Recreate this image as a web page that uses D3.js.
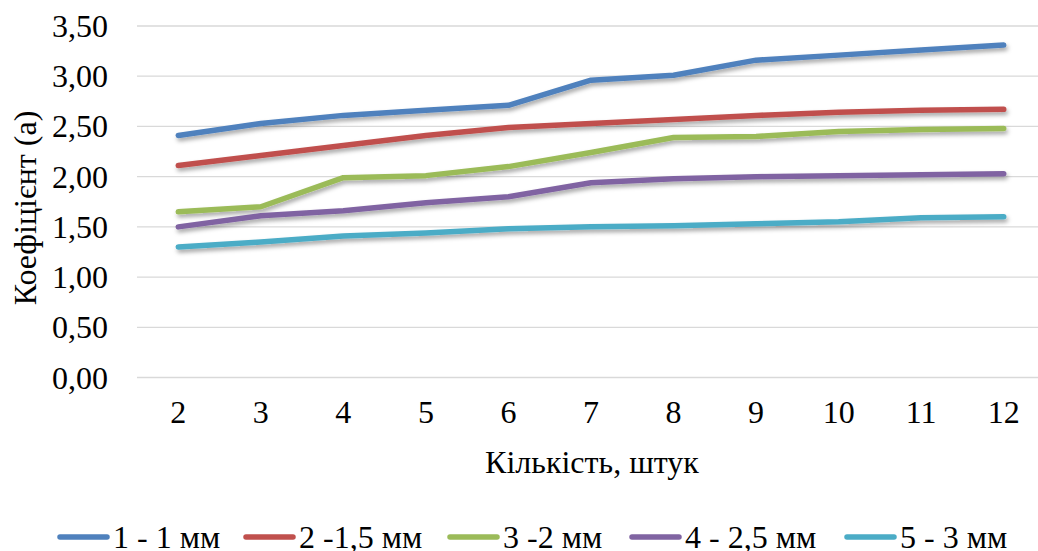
<html>
<head>
<script src="https://cdn.jsdelivr.net/npm/d3@7"></script>
</head>
<body style="margin:0">
<div id="chart"></div>
<script>
// data
var counts = [2, 3, 4, 5, 6, 7, 8, 9, 10, 11, 12];
var s1 = [2.41, 2.53, 2.61, 2.66, 2.71, 2.96, 3.01, 3.16, 3.21, 3.26, 3.31];
var s2 = [2.11, 2.21, 2.31, 2.41, 2.49, 2.53, 2.57, 2.61, 2.64, 2.66, 2.67];
var s3 = [1.65, 1.70, 1.99, 2.01, 2.10, 2.24, 2.39, 2.40, 2.45, 2.47, 2.48];
var s4 = [1.50, 1.61, 1.66, 1.74, 1.80, 1.94, 1.98, 2.00, 2.01, 2.02, 2.03];
var s5 = [1.30, 1.35, 1.41, 1.44, 1.48, 1.50, 1.51, 1.53, 1.55, 1.59, 1.60];
var seriesNames = ["1 - 1 мм", "2 -1,5 мм", "3 -2 мм", "4 - 2,5 мм", "5 - 3 мм"];
var colors = ["#4F81BD", "#C0504D", "#9BBB59", "#8064A2", "#4BACC6"];
var yTicks = [0, 0.5, 1, 1.5, 2, 2.5, 3, 3.5];

var W = 1038, H = 551;
var svg = d3.select("#chart").append("svg").attr("width", W).attr("height", H);

var defs = svg.append("defs");
var f = defs.append("filter").attr("id", "shadow").attr("x", "-10%").attr("y", "-50%").attr("width", "120%").attr("height", "200%");
f.append("feDropShadow").attr("dx", 1.5).attr("dy", 3).attr("stdDeviation", 2)
  .attr("flood-color", "#000").attr("flood-opacity", 0.35);

var plotLeft = 137, plotRight = 1045, plotTop = 26, plotBottom = 377.5;

var x = d3.scaleBand().domain(counts).range([plotLeft, plotRight]);
var y = d3.scaleLinear().domain([0, 3.5]).range([plotBottom, plotTop]);

// small helper so every label gets the same serif font
function label(sel) {
  return sel.attr("font-family", "Liberation Serif").attr("font-size", 32).attr("fill", "#000");
}

// gridlines
svg.append("g")
  .selectAll("line").data(yTicks).enter().append("line")
  .attr("x1", plotLeft).attr("x2", plotRight)
  .attr("y1", function(d) { return y(d); }).attr("y2", function(d) { return y(d); })
  .attr("stroke", "#d9d9d9").attr("stroke-width", 1.3);

// y tick labels
label(svg.selectAll(".ytick").data(yTicks).enter().append("text"))
  .attr("x", 108).attr("y", function(d) { return y(d) + 11; })
  .attr("text-anchor", "end")
  .text(function(d) { return d3.format(".2f")(d).replace(".", ","); });

// x tick labels
label(svg.selectAll(".xtick").data(counts).enter().append("text"))
  .attr("x", function(d) { return x(d) + x.bandwidth() / 2; }).attr("y", 423)
  .attr("text-anchor", "middle")
  .text(function(d) { return d; });

// axis titles
label(svg.append("text")).attr("x", 592).attr("y", 473)
  .attr("text-anchor", "middle").text("Кількість, штук");
label(svg.append("text")).attr("transform", "translate(36,208) rotate(-90)")
  .attr("text-anchor", "middle").text("Коефіцієнт (а)");

// lines
var all = [s1, s2, s3, s4, s5];
var line = d3.line()
  .x(function(d, i) { return x(counts[i]) + x.bandwidth() / 2; })
  .y(function(d) { return y(d); });

svg.append("g").selectAll("path").data(all).enter().append("path")
  .attr("d", line)
  .attr("fill", "none")
  .attr("stroke", function(d, i) { return colors[i]; })
  .attr("stroke-width", 5.5)
  .attr("stroke-linecap", "round")
  .attr("stroke-linejoin", "round")
  .attr("filter", "url(#shadow)");

// legend
var legendX = [60, 246, 450, 632, 847];
var lg = svg.append("g").selectAll("g").data(seriesNames).enter().append("g")
  .attr("transform", function(d, i) { return "translate(" + legendX[i] + ",537)"; });
lg.append("line").attr("x1", 0).attr("x2", 47).attr("y1", 0).attr("y2", 0)
  .attr("stroke", function(d, i) { return colors[i]; })
  .attr("stroke-width", 5.5).attr("stroke-linecap", "round");
label(lg.append("text")).attr("x", 53).attr("y", 11)
  .text(function(d) { return d; });
</script>
</body>
</html>
